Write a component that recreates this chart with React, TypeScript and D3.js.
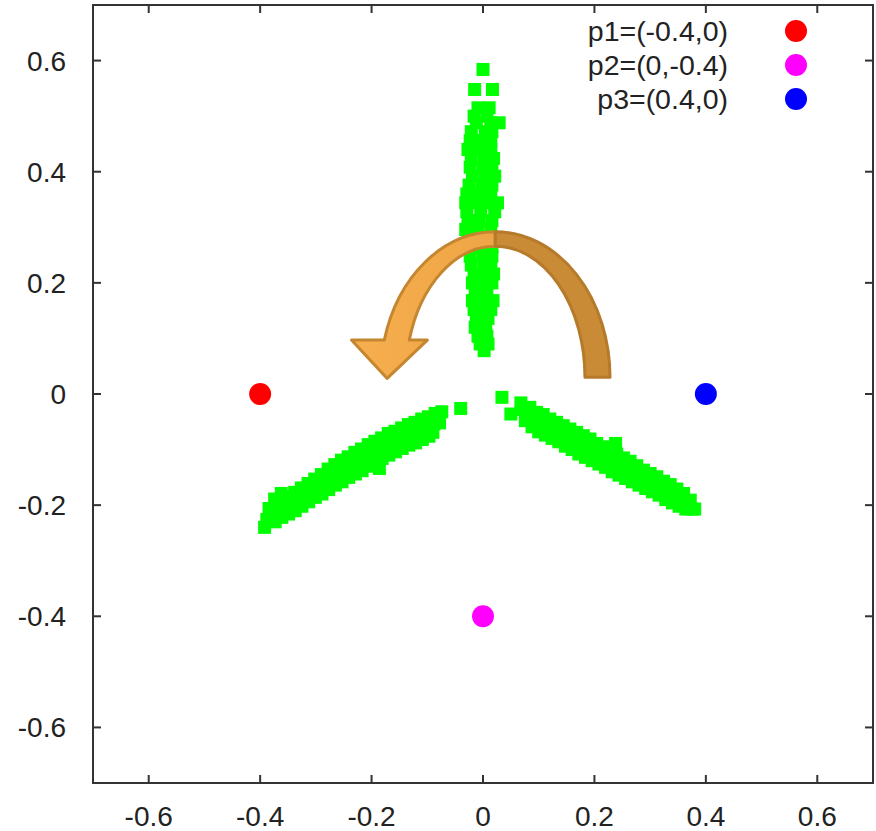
import React from "react";
import * as d3 from "d3";

// ---------- data ----------
const xTicks = [-0.6, -0.4, -0.2, 0, 0.2, 0.4, 0.6];
const yTicks = [-0.6, -0.4, -0.2, 0, 0.2, 0.4, 0.6];

const refLabels = ["p1=(-0.4,0)", "p2=(0,-0.4)", "p3=(0.4,0)"];
const refX = [-0.4, 0, 0.4];
const refY = [0, -0.4, 0];
const refColors = ["#ff0000", "#ff00ff", "#0000ff"];

// upper (vertical) arm
const armUp: [number, number][] = [
  [0.0, 0.584], [-0.015, 0.548], [0.017, 0.548],
  [-0.009, 0.515], [0.011, 0.515],
  [-0.016, 0.5], [0.007, 0.5],
  [-0.012, 0.488], [0.014, 0.488], [0.029, 0.488],
  [-0.021, 0.472], [0.004, 0.472], [0.016, 0.472],
  [-0.023, 0.456], [-0.002, 0.456], [0.014, 0.456],
  [-0.027, 0.44], [-0.005, 0.44], [0.014, 0.44],
  [-0.021, 0.424], [0.002, 0.424], [0.019, 0.424],
  [-0.023, 0.408], [0.0, 0.408], [0.016, 0.408],
  [-0.019, 0.392], [0.004, 0.392], [0.021, 0.392],
  [-0.025, 0.376], [-0.002, 0.376], [0.016, 0.376],
  [-0.029, 0.36], [-0.007, 0.36], [0.014, 0.36],
  [-0.031, 0.344], [-0.009, 0.344], [0.011, 0.344], [0.026, 0.344],
  [-0.029, 0.328], [-0.004, 0.328], [0.021, 0.328],
  [-0.027, 0.312], [-0.007, 0.312], [0.016, 0.312],
  [-0.031, 0.296], [-0.009, 0.296], [0.014, 0.296],
  [-0.027, 0.28], [-0.004, 0.28], [0.019, 0.28],
  [-0.029, 0.264], [-0.007, 0.264], [0.016, 0.264],
  [-0.023, 0.248], [0.0, 0.248], [0.016, 0.248],
  [-0.021, 0.232], [0.002, 0.232], [0.014, 0.232],
  [-0.016, 0.216], [0.004, 0.216], [0.019, 0.216],
  [-0.019, 0.2], [0.002, 0.2], [0.016, 0.2],
  [-0.014, 0.184], [0.007, 0.184],
  [-0.019, 0.168], [0.002, 0.168], [0.018, 0.168],
  [-0.016, 0.152], [0.004, 0.152], [0.014, 0.152],
  [-0.012, 0.136], [0.009, 0.136],
  [-0.014, 0.12], [0.005, 0.12],
  [-0.009, 0.104], [0.007, 0.104],
  [-0.005, 0.09], [0.009, 0.09],
  [0.002, 0.078],
];

// lower-left arm
const armLeft: [number, number][] = [
  [-0.04, -0.026],
  [-0.074, -0.032], [-0.078, -0.052],
  [-0.086, -0.035], [-0.088, -0.054], [-0.09, -0.069],
  [-0.098, -0.041], [-0.1, -0.06], [-0.097, -0.076],
  [-0.11, -0.045], [-0.112, -0.064], [-0.109, -0.082],
  [-0.122, -0.051], [-0.124, -0.07], [-0.121, -0.088],
  [-0.134, -0.055], [-0.136, -0.074], [-0.133, -0.092],
  [-0.146, -0.061], [-0.148, -0.08], [-0.145, -0.098],
  [-0.158, -0.067], [-0.16, -0.086], [-0.157, -0.104],
  [-0.17, -0.071], [-0.172, -0.09], [-0.169, -0.11],
  [-0.182, -0.079], [-0.184, -0.098], [-0.181, -0.116], [-0.186, -0.134],
  [-0.194, -0.085], [-0.196, -0.104], [-0.193, -0.124],
  [-0.206, -0.091], [-0.208, -0.112], [-0.205, -0.13],
  [-0.218, -0.099], [-0.22, -0.118], [-0.217, -0.138],
  [-0.23, -0.105], [-0.232, -0.124], [-0.229, -0.144],
  [-0.242, -0.113], [-0.244, -0.132], [-0.241, -0.15],
  [-0.254, -0.119], [-0.256, -0.138], [-0.253, -0.158],
  [-0.266, -0.127], [-0.268, -0.146], [-0.265, -0.164],
  [-0.278, -0.135], [-0.28, -0.154], [-0.277, -0.172],
  [-0.29, -0.145], [-0.292, -0.162], [-0.289, -0.18],
  [-0.302, -0.153], [-0.304, -0.17], [-0.301, -0.186],
  [-0.314, -0.161], [-0.316, -0.178], [-0.313, -0.194],
  [-0.326, -0.169], [-0.328, -0.186], [-0.325, -0.202],
  [-0.338, -0.177], [-0.34, -0.194], [-0.337, -0.21],
  [-0.35, -0.185], [-0.352, -0.2], [-0.349, -0.216],
  [-0.362, -0.179], [-0.364, -0.206], [-0.361, -0.222],
  [-0.374, -0.189], [-0.376, -0.214], [-0.373, -0.23],
  [-0.384, -0.206], [-0.388, -0.226], [-0.392, -0.24],
];

// lower-right arm
const armRight: [number, number][] = [
  [0.034, -0.006], [0.05, -0.036], [0.068, -0.016],
  [0.072, -0.028], [0.076, -0.048],
  [0.084, -0.024], [0.086, -0.042], [0.088, -0.059],
  [0.096, -0.033], [0.098, -0.05], [0.1, -0.068],
  [0.108, -0.037], [0.11, -0.056], [0.112, -0.074],
  [0.12, -0.045], [0.122, -0.062], [0.124, -0.08],
  [0.132, -0.051], [0.134, -0.068], [0.136, -0.086],
  [0.144, -0.057], [0.146, -0.074], [0.148, -0.094],
  [0.156, -0.063], [0.158, -0.082], [0.16, -0.1],
  [0.168, -0.069], [0.17, -0.088], [0.172, -0.108],
  [0.18, -0.075], [0.182, -0.094], [0.184, -0.114],
  [0.192, -0.081], [0.194, -0.1], [0.196, -0.12],
  [0.204, -0.089], [0.206, -0.106], [0.208, -0.126],
  [0.216, -0.095], [0.218, -0.114], [0.22, -0.132],
  [0.228, -0.101], [0.23, -0.12], [0.232, -0.14],
  [0.238, -0.089], [0.24, -0.108], [0.242, -0.126], [0.244, -0.146],
  [0.252, -0.115], [0.254, -0.134], [0.256, -0.152],
  [0.264, -0.121], [0.266, -0.14], [0.268, -0.158],
  [0.276, -0.129], [0.278, -0.146], [0.28, -0.164],
  [0.288, -0.137], [0.29, -0.152], [0.292, -0.17],
  [0.3, -0.143], [0.302, -0.16], [0.304, -0.176],
  [0.312, -0.149], [0.314, -0.166], [0.316, -0.182],
  [0.324, -0.157], [0.326, -0.172], [0.328, -0.19],
  [0.336, -0.163], [0.338, -0.18], [0.34, -0.196],
  [0.348, -0.171], [0.35, -0.186], [0.352, -0.202],
  [0.36, -0.179], [0.362, -0.194], [0.364, -0.207],
  [0.372, -0.191], [0.374, -0.207],
  [0.38, -0.207],
];

// curved arrow annotation (data units)
const arrowCenter = [0.022, 0.03];
const arrowOuterR = [0.206, 0.262];
const arrowInnerR = [0.161, 0.236];
const arrowShaftEndY = 0.097;
const arrowHead = [[-0.236, 0.097], [-0.172, 0.028], [-0.1, 0.097]];

// ---------- layout ----------
const W = 876;
const H = 831;
const L = 93;
const R = 873;
const T = 5;
const B = 783;
const FONT = "Liberation Sans, Arial, sans-serif";

export default function App() {
  const x = d3.scaleLinear().domain([-0.7, 0.7]).range([L, R]);
  const y = d3.scaleLinear().domain([-0.7, 0.7]).range([B, T]);
  const sq = 13;
  const tick = 8;

  const cx = x(arrowCenter[0]);
  const cy = y(arrowCenter[1]);
  const rxO = x(arrowCenter[0] + arrowOuterR[0]) - cx;
  const ryO = cy - y(arrowCenter[1] + arrowOuterR[1]);
  const rxI = x(arrowCenter[0] + arrowInnerR[0]) - cx;
  const ryI = cy - y(arrowCenter[1] + arrowInnerR[1]);
  const ey = y(arrowShaftEndY);
  const dy = cy - ey;
  const exO = cx - rxO * Math.sqrt(1 - (dy / ryO) ** 2);
  const exI = cx - rxI * Math.sqrt(1 - (dy / ryI) ** 2);
  const topO = [cx, cy - ryO];
  const topI = [cx, cy - ryI];
  const h = arrowHead.map(([a, b]) => [x(a), y(b)]);

  const leftPath =
    `M${topO[0]},${topO[1]} A${rxO},${ryO} 0 0 0 ${exO},${ey} ` +
    `L${h[0][0]},${h[0][1]} L${h[1][0]},${h[1][1]} L${h[2][0]},${h[2][1]} ` +
    `L${exI},${ey} A${rxI},${ryI} 0 0 1 ${topI[0]},${topI[1]} Z`;
  const rightPath =
    `M${topO[0]},${topO[1]} A${rxO},${ryO} 0 0 1 ${cx + rxO},${cy} ` +
    `L${cx + rxI},${cy} A${rxI},${ryI} 0 0 0 ${topI[0]},${topI[1]} Z`;

  const allArms = [...armUp, ...armLeft, ...armRight];
  const fmt = (t: number) => d3.format("")(t).replace("−", "-");

  return (
    <svg
      width={W}
      height={H}
      style={{ position: "absolute", left: 0, top: 0, background: "#fff" }}
      fontFamily={FONT}
    >
      <defs>
        <linearGradient id="arrowL" x1="0" y1="0" x2="1" y2="0">
          <stop offset="0" stopColor="#f7ae4f" />
          <stop offset="1" stopColor="#eea545" />
        </linearGradient>
      </defs>

      {/* green scatter */}
      <g fill="#00ff00">
        {allArms.map(([a, b], i) => (
          <rect key={i} x={x(a) - sq / 2} y={y(b) - sq / 2} width={sq} height={sq} />
        ))}
      </g>

      {/* reference points */}
      {refX.map((v, i) => (
        <circle key={i} cx={x(v)} cy={y(refY[i])} r={11} fill={refColors[i]} />
      ))}

      {/* curved arrow */}
      <path d={leftPath} fill="url(#arrowL)" stroke="#c4862f" strokeWidth={3} strokeLinejoin="round" />
      <path d={rightPath} fill="#ca8b37" stroke="#b67a2b" strokeWidth={3} strokeLinejoin="round" />

      {/* frame */}
      <rect x={L} y={T} width={R - L} height={B - T} fill="none" stroke="#333" strokeWidth={2} />

      {/* ticks */}
      <g stroke="#333" strokeWidth={2}>
        {xTicks.map((t) => (
          <g key={"x" + t}>
            <line x1={x(t)} x2={x(t)} y1={B} y2={B - tick} />
            <line x1={x(t)} x2={x(t)} y1={T} y2={T + tick} />
          </g>
        ))}
        {yTicks.map((t) => (
          <g key={"y" + t}>
            <line x1={L} x2={L + tick} y1={y(t)} y2={y(t)} />
            <line x1={R} x2={R - tick} y1={y(t)} y2={y(t)} />
          </g>
        ))}
      </g>

      {/* tick labels */}
      <g fontSize={28} fill="#222">
        {xTicks.map((t) => (
          <text key={"xl" + t} x={x(t)} y={826} textAnchor="middle">
            {fmt(t)}
          </text>
        ))}
        {yTicks.map((t) => (
          <text key={"yl" + t} x={66} y={y(t) + 10} textAnchor="end">
            {fmt(t)}
          </text>
        ))}
      </g>

      {/* legend */}
      <g fontSize={28.5} fill="#222">
        {refLabels.map((lab, i) => (
          <g key={lab}>
            <text x={728} y={31 + i * 34 + 10} textAnchor="end">
              {lab}
            </text>
            <circle cx={796} cy={31 + i * 34} r={11} fill={refColors[i]} />
          </g>
        ))}
      </g>
    </svg>
  );
}
